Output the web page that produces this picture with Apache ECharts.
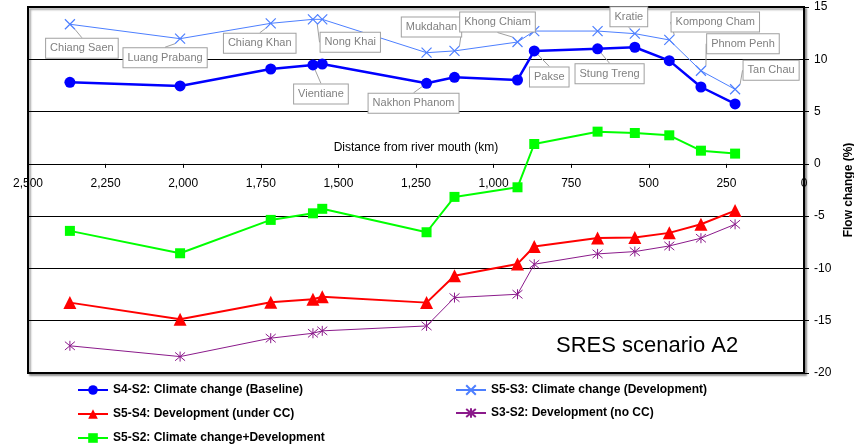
<!DOCTYPE html>
<html><head><meta charset="utf-8">
<script src="https://cdn.jsdelivr.net/npm/echarts@6/dist/echarts.min.js"></script>
<style>html,body{margin:0;padding:0;background:#fff}#c{width:854px;height:448px}</style>
</head><body><div id="c"></div>
<script>
const stations = ['Chiang Saen','Luang Prabang','Chiang Khan','Vientiane','Nong Khai','Nakhon Phanom','Mukdahan','Khong Chiam','Pakse','Stung Treng','Kratie','Kompong Cham','Phnom Penh','Tan Chau'];
const distanceKm = [2365, 2010, 1718, 1582, 1552, 1216, 1126, 923, 869, 665, 545, 434, 332, 222];
const s4s2 = [7.8, 7.45, 9.07, 9.46, 9.55, 7.7, 8.28, 8.02, 10.8, 11.0, 11.15, 9.87, 7.35, 5.73];
const s5s3 = [13.35, 11.97, 13.44, 13.82, 13.82, 10.63, 10.8, 11.65, 12.7, 12.7, 12.45, 11.85, 8.9, 7.13];
const s5s4 = [-13.27, -14.86, -13.23, -12.95, -12.7, -13.27, -10.7, -9.57, -7.9, -7.1, -7.05, -6.6, -5.78, -4.47];
const s3s2 = [-17.4, -18.43, -16.67, -16.2, -15.97, -15.5, -12.79, -12.47, -9.6, -8.61, -8.39, -7.85, -7.11, -5.78];
const s5s2 = [-6.41, -8.55, -5.36, -4.73, -4.3, -6.54, -3.16, -2.24, 1.9, 3.08, 2.95, 2.73, 1.26, 0.98];
const seriesNames = ['S4-S2: Climate change (Baseline)','S5-S3: Climate change (Development)','S5-S4: Development (under CC)','S3-S2: Development (no CC)','S5-S2: Climate change+Development'];
// which series carries each station's callout: 'o' = S4-S2, 'x' = S5-S3
const labelOwner = ['x','x','x','o','x','o','x','x','o','o','x','x','x','x'];
// callout offsets (px) of the box centre from its point
const labelOffset = [[12,24],[-15,19],[-11,20],[8,29],[28,23],[-13,20],[-23,-24],[-20,-20],[15,26],[12,25],[-6,-17],[46,-18],[42,-27],[36,-19]];
const yTicks = {min:-20, max:15, interval:5};
const xTicks = {min:0, max:2500, interval:250};

const FONT = "'Liberation Sans', Arial, sans-serif";
const GRID = {left:28, right:50, top:7, bottom:75, height:448 - 7 - 75};
// the distance axis crosses the flow axis at 0
const xAxisOffset = -GRID.height * (0 - yTicks.min) / (yTicks.max - yTicks.min);

const labelBox = {
  show:true, position:'inside', color:'#808080', fontSize:11, fontFamily:FONT,
  backgroundColor:'#fff', borderColor:'#a0a0a0', borderWidth:1, padding:[3,4,3,4], lineHeight:13
};
function makeData(vals, owner) {
  return vals.map((v,i) => {
    const d = {value:[distanceKm[i], v]};
    if (owner && labelOwner[i] === owner) d.label = Object.assign({}, labelBox, {formatter: stations[i]});
    return d;
  });
}
function layoutFn(p) {
  const o = labelOffset[p.dataIndex];
  return o ? {dx:o[0], dy:o[1]} : {};
}
const crossPath = 'path://M0,0L10,10M10,0L0,10';
const starPath = 'path://M0,0L10,10M10,0L0,10M5,-1L5,11';

const chart = echarts.init(document.getElementById('c'), null, {renderer:'canvas'});
chart.setOption({
  animation:false,
  textStyle:{fontFamily:FONT},
  grid:{left:GRID.left, right:GRID.right, top:GRID.top, bottom:GRID.bottom, outerBoundsMode:'none', containLabel:false,
        show:true, borderColor:'#000', borderWidth:2, backgroundColor:'#fff',
        shadowColor:'rgba(0,0,0,0.35)', shadowOffsetX:2, shadowOffsetY:2, shadowBlur:2},
  xAxis:{type:'value', min:xTicks.min, max:xTicks.max, interval:xTicks.interval, inverse:true,
    position:'bottom', offset:xAxisOffset,
    axisLine:{onZero:false, lineStyle:{color:'#000', width:1}},
    axisTick:{show:true, length:4, lineStyle:{color:'#000'}},
    axisLabel:{color:'#000', fontSize:12, margin:14, showMinLabel:true, showMaxLabel:true,
      formatter:v => v.toLocaleString('en-US')},
    splitLine:{show:false},
    name:'Distance from river mouth (km)', nameLocation:'middle', nameGap:-22,
    nameTextStyle:{color:'#000', fontSize:12}},
  yAxis:{type:'value', position:'right', min:yTicks.min, max:yTicks.max, interval:yTicks.interval,
    axisLine:{show:true, onZero:false, lineStyle:{color:'#000', width:2}},
    axisTick:{show:true, length:5, lineStyle:{color:'#000'}},
    axisLabel:{color:'#000', fontSize:12, margin:10},
    splitLine:{show:true, lineStyle:{color:'#000', width:1}},
    name:'Flow change (%)', nameLocation:'middle', nameRotate:90, nameGap:37,
    nameTextStyle:{color:'#000', fontSize:12, fontWeight:'bold'}},
  legend:[
    {data:[seriesNames[0], seriesNames[2], seriesNames[4]], orient:'vertical', left:77, top:384, padding:0,
     itemWidth:30, itemHeight:12, itemGap:12, textStyle:{fontSize:12, lineHeight:12, fontWeight:'bold', color:'#000'}},
    {data:[seriesNames[1], seriesNames[3]], orient:'vertical', left:455, top:384, padding:0,
     itemWidth:30, itemHeight:12, itemGap:11, textStyle:{fontSize:12, lineHeight:12, fontWeight:'bold', color:'#000'}}
  ],
  graphic:[{type:'text', left:556, top:335, style:{text:'SRES scenario A2', font:"22px 'Liberation Sans', Arial, sans-serif", fill:'#000'}}],
  series:[
    {name:seriesNames[1], type:'line', data:makeData(s5s3,'x'), symbol:crossPath, symbolSize:10,
     lineStyle:{color:'#4d7fff', width:1}, itemStyle:{color:'#4d7fff', borderColor:'#4d7fff', borderWidth:1.2},
     labelLayout:layoutFn, labelLine:{show:true, lineStyle:{color:'#a0a0a0', width:1}}, z:3},
    {name:seriesNames[0], type:'line', data:makeData(s4s2,'o'), symbol:'circle', symbolSize:11,
     lineStyle:{color:'#0000ff', width:2.5}, itemStyle:{color:'#0000ff'},
     labelLayout:layoutFn, labelLine:{show:true, lineStyle:{color:'#a0a0a0', width:1}}, z:4},
    {name:seriesNames[2], type:'line', data:makeData(s5s4), symbol:'triangle', symbolSize:13,
     lineStyle:{color:'#ff0000', width:2}, itemStyle:{color:'#ff0000'}, z:3},
    {name:seriesNames[3], type:'line', data:makeData(s3s2), symbol:starPath, symbolSize:10,
     lineStyle:{color:'#8b1a8b', width:1}, itemStyle:{color:'#8b1a8b', borderColor:'#8b1a8b', borderWidth:1}, z:3},
    {name:seriesNames[4], type:'line', data:makeData(s5s2), symbol:'rect', symbolSize:10,
     lineStyle:{color:'#00ff00', width:2}, itemStyle:{color:'#00ff00'}, z:3}
  ]
});
</script></body></html>
